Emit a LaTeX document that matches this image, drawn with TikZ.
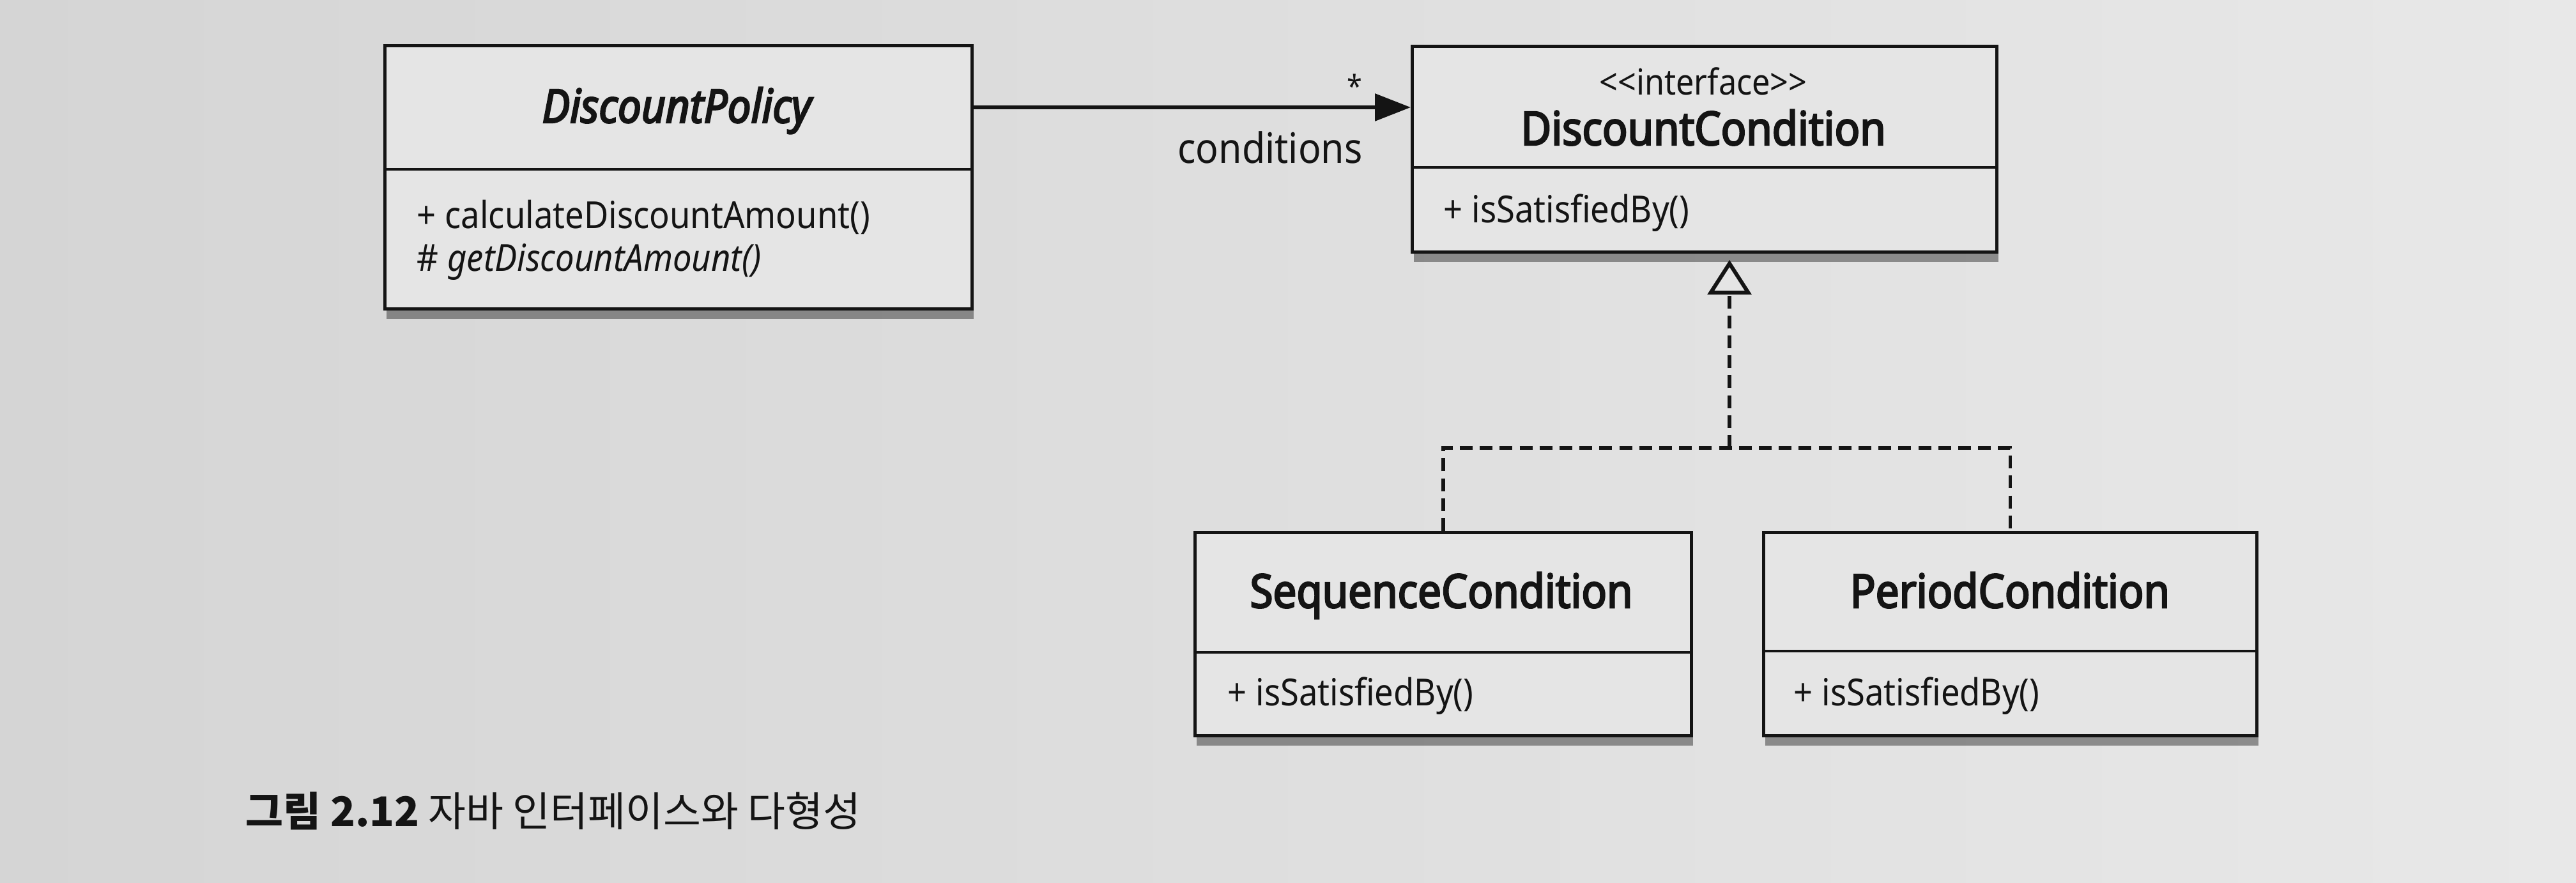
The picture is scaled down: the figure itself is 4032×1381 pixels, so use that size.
\documentclass[tikz,border=0pt]{standalone}
\usepackage{fontspec}
\setmainfont{Noto Sans}[FakeStretch=0.9]
\newfontfamily\clsfont{Noto Sans}[FakeStretch=0.9, FakeBold=3.4]
\newfontfamily\krfont{Noto Sans CJK KR}
\usetikzlibrary{arrows.meta,shadows,calc}
\definecolor{paperL}{HTML}{D5D5D5}
\definecolor{paperR}{HTML}{E8E8E8}
\definecolor{boxfill}{HTML}{E5E5E5}
\definecolor{ink}{HTML}{141414}
\tikzset{
  classbox/.style={draw=ink, line width=1.2pt, fill=boxfill, inner sep=0pt, anchor=north west,
    drop shadow={shadow xshift=0.6pt, shadow yshift=-4pt, opacity=0.5, fill=black!80}},
  divline/.style={draw=ink, line width=1.2pt},
  clstitle/.style={font=\clsfont\fontsize{18.2}{22}\selectfont, text=ink, inner sep=0pt, anchor=base},
  stereo/.style={font=\fontsize{14}{17}\selectfont, text=ink, inner sep=0pt, anchor=base},
  meth/.style={font=\fontsize{14.6}{18}\selectfont, text=ink, inner sep=0pt, anchor=base west},
  lbl/.style={font=\fontsize{16.4}{20}\selectfont, text=ink, inner sep=0pt, anchor=base},
  assoc/.style={draw=ink, line width=1.5pt, -{Triangle[length=14pt, width=10.5pt]}},
  realline/.style={draw=ink, line width=1.4pt, dash pattern=on 5pt off 2.8pt},
  realtip/.style={-{Triangle[open, length=13.5pt, width=17pt, line width=1.5pt, fill=boxfill]}}
}
\begin{document}
\begin{tikzpicture}[x=0.25pt, y=-0.25pt]
  % paper background
  \shade[left color=paperL, right color=paperR] (0,0) rectangle (4032,1381);
  \useasboundingbox (0,0) rectangle (4032,1381);

  % DiscountPolicy
  \node[classbox, minimum width=229.75pt, minimum height=103pt] (dp) at (600,69) {};
  \draw[divline] (dp.west |- 0,265) -- (dp.east |- 0,265);
  \node[clstitle] (dpT) at (1059,192) {\itshape DiscountPolicy};
  \node[meth] (dpM1) at (652,357) {+ calculateDiscountAmount()};
  \node[meth] (dpM2) at (652,424) {\# \textit{getDiscountAmount()}};

  % DiscountCondition
  \node[classbox, minimum width=228.75pt, minimum height=80.5pt] (dc) at (2208,70) {};
  \draw[divline] (dc.west |- 0,262) -- (dc.east |- 0,262);
  \node[stereo] (dcS) at (2666,148) {<\kern0pt<interface>\kern0pt>};
  \node[clstitle] (dcT) at (2666,227) {DiscountCondition};
  \node[meth] (dcM) at (2259,348) {+ isSatisfiedBy()};

  % SequenceCondition
  \node[classbox, minimum width=194.25pt, minimum height=79.5pt] (seq) at (1868,831) {};
  \draw[divline] (seq.west |- 0,1021) -- (seq.east |- 0,1021);
  \node[clstitle] (seqT) at (2256,951) {SequenceCondition};
  \node[meth] (seqM) at (1921,1104) {+ isSatisfiedBy()};

  % PeriodCondition
  \node[classbox, minimum width=193pt, minimum height=79.5pt] (per) at (2758,831) {};
  \draw[divline] (per.west |- 0,1019) -- (per.east |- 0,1019);
  \node[clstitle] (perT) at (3146,951) {PeriodCondition};
  \node[meth] (perM) at (2807,1104) {+ isSatisfiedBy()};

  % association DiscountPolicy -> DiscountCondition
  \coordinate (arrowy) at (0,168);
  \draw[assoc] (dp.east |- arrowy) -- (dc.west |- arrowy);
  \node[lbl, font=\fontsize{12}{14}\selectfont] (mult) at (2120,152) {*};
  \node[lbl] (rolename) at (1988,255) {conditions};

  % realization
  \coordinate (joint) at (2707,701);
  \draw[realline] (seq.north) -- (seq.north |- joint) -- (per.north |- joint) -- (per.north);
  \draw[realline, realtip, shorten >=2.5pt] (joint) -- (joint |- dc.south);

  % caption
  \node[anchor=base west, inner sep=0pt, text=ink, font=\krfont\fontsize{16}{19}\selectfont] (cap) at (384,1293)
    {{\bfseries 그림 2.12} 자바 인터페이스와 다형성};
\end{tikzpicture}
\end{document}
